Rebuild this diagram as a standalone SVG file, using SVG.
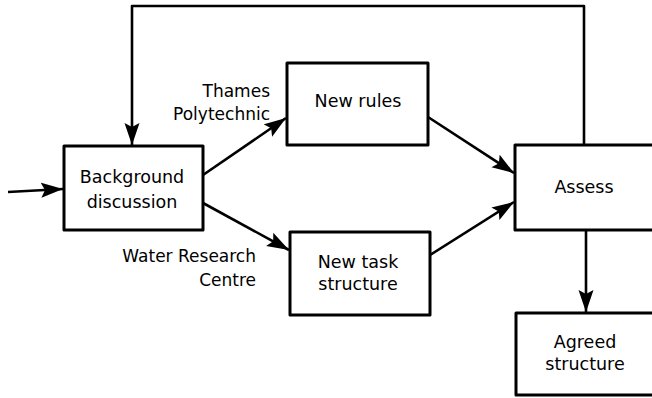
<svg xmlns="http://www.w3.org/2000/svg" width="652" height="398" viewBox="0 0 652 398">
<style>
.box{fill:#fff;stroke:#000;stroke-width:3;stroke-linejoin:round}
.ln{fill:none;stroke:#000;stroke-width:2.6;stroke-linejoin:round}
.t{font-family:"DejaVu Sans",sans-serif;font-size:17.5px;fill:#000;text-anchor:middle}
.lb{font-family:"DejaVu Sans",sans-serif;font-size:17px;fill:#000;text-anchor:end}
</style>
<defs>
<marker id="ah" markerUnits="userSpaceOnUse" markerWidth="24" markerHeight="16" refX="22" refY="8" orient="auto">
<path d="M0,0.5 L22,8 L0,15.5 L4,8 Z" fill="#000"/>
</marker>
</defs>
<g id="connectors">
<path class="ln" d="M8,192 L63,189" marker-end="url(#ah)"/>
<path class="ln" d="M584,145 L584,6 L132,6 L132,145" marker-end="url(#ah)"/>
<path class="ln" d="M203,175 L286,118" marker-end="url(#ah)"/>
<path class="ln" d="M203,203 L289,250" marker-end="url(#ah)"/>
<path class="ln" d="M428,117 L514,173" marker-end="url(#ah)"/>
<path class="ln" d="M430,255 L514,202" marker-end="url(#ah)"/>
<path class="ln" d="M586,230 L586,312" marker-end="url(#ah)"/>
</g>
<g id="background">
<rect class="box" x="64" y="146" width="139" height="84"/>
<text class="t" x="132" y="183">Background</text>
<text class="t" x="132" y="208">discussion</text>
</g>
<g id="new-rules">
<rect class="box" x="287" y="63" width="141" height="82"/>
<text class="t" x="358" y="107">New rules</text>
</g>
<g id="new-task">
<rect class="box" x="290" y="232" width="140" height="83"/>
<text class="t" x="358" y="268">New task</text>
<text class="t" x="358" y="290">structure</text>
</g>
<g id="assess">
<rect class="box" x="515" y="145" width="150" height="85"/>
<text class="t" x="584" y="193">Assess</text>
</g>
<g id="agreed">
<rect class="box" x="516" y="313" width="150" height="82"/>
<text class="t" x="585" y="348">Agreed</text>
<text class="t" x="585" y="370">structure</text>
</g>
<g id="labels">
<text class="lb" x="270" y="97">Thames</text>
<text class="lb" x="270" y="120">Polytechnic</text>
<text class="lb" x="256" y="262">Water Research</text>
<text class="lb" x="256" y="286">Centre</text>
</g>
</svg>
